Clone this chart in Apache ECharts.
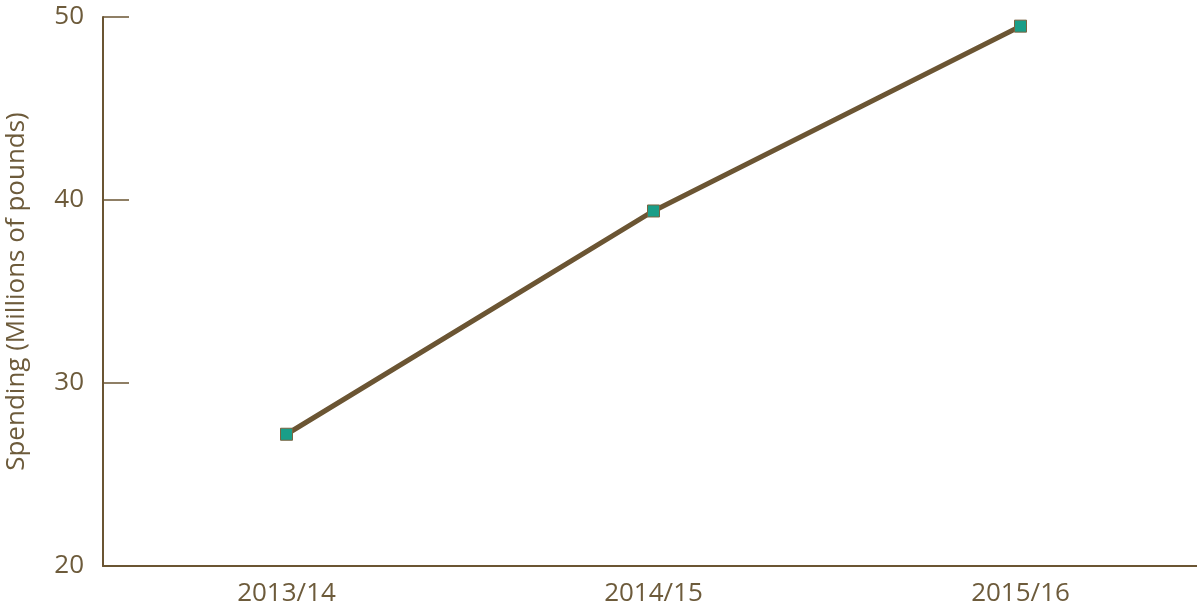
<!DOCTYPE html>
<html><head><meta charset="utf-8">
<script src="https://cdn.jsdelivr.net/npm/echarts@6/dist/echarts.min.js"></script>
<style>html,body{margin:0;padding:0;background:#fff}#c{width:1197px;height:612px}</style>
</head><body><div id="c"></div>
<script>
const categories = ['2013/14', '2014/15', '2015/16'];
const spending = [27.2, 39.4, 49.5];
const yTicks = { min: 20, max: 50, interval: 10 };
const brown = '#6b5533';
const textColor = '#6d5b3b';
const font = 'Open Sans';
const chart = echarts.init(document.getElementById('c'));
chart.setOption({
  animation: false,
  grid: { left: 103, top: 17, width: 1101, bottom: 46, containLabel: false, outerBoundsMode: 'none' },
  xAxis: {
    type: 'category', data: categories, boundaryGap: true,
    axisLine: { lineStyle: { color: brown, width: 2 } },
    axisTick: { inside: true, alignWithLabel: true, length: 13, lineStyle: { color: brown, width: 1.5 } },
    axisLabel: { color: textColor, fontSize: 26, fontFamily: font, margin: 15 },
    splitLine: { show: false }
  },
  yAxis: {
    type: 'value', min: yTicks.min, max: yTicks.max, interval: yTicks.interval,
    name: 'Spending (Millions of pounds)', nameLocation: 'middle', nameGap: 73,
    nameTextStyle: { color: textColor, fontSize: 26, fontFamily: font },
    axisLine: { show: true, lineStyle: { color: brown, width: 2 } },
    axisTick: { show: true, inside: true, length: 26, lineStyle: { color: brown, width: 1.5 } },
    axisLabel: { color: textColor, fontSize: 26, fontFamily: font, margin: 19 },
    splitLine: { show: false }
  },
  series: [{
    type: 'line', data: spending,
    symbol: 'rect', symbolSize: 12,
    lineStyle: { color: brown, width: 5 },
    itemStyle: { color: '#1a9e88', borderColor: '#7a6440', borderWidth: 1 }
  }]
});
</script></body></html>
